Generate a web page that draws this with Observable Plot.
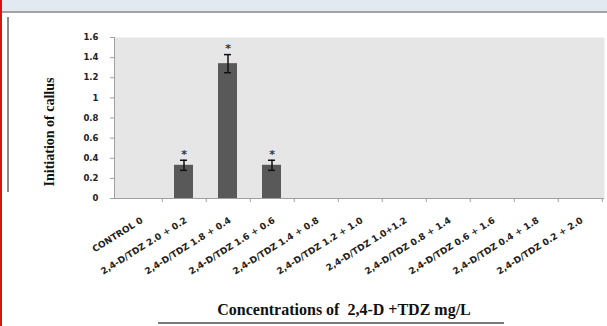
<!DOCTYPE html>
<html>
<head>
<meta charset="utf-8">
<script src="https://cdn.jsdelivr.net/npm/d3@7"></script>
<script src="https://cdn.jsdelivr.net/npm/@observablehq/plot@0.6"></script>
<style>
  html, body { margin: 0; padding: 0; background: #fff; }
  #wrap { position: relative; width: 607px; height: 326px; overflow: hidden; }
  #wrap svg { position: absolute; left: 0; top: 0; }
  .band { position: absolute; left: 0; top: 0; width: 607px; height: 11px; background: #e3e9f1; border-bottom: 2px solid #a3a3a3; }
  .red { position: absolute; left: 0; top: 0; width: 2px; height: 326px; background: #dd1111; }
  .lbar { position: absolute; left: 7px; top: 17px; width: 1.5px; height: 175px; background: #8a8a8a; }
  .bline { position: absolute; left: 158px; top: 322px; width: 346px; height: 2px; background: #7a7a7a; }
  .ytitle { position: absolute; left: 50px; top: 132px; transform: translate(-50%, -50%) rotate(-90deg); white-space: nowrap;
            font: bold 14px "Liberation Serif", "Times New Roman", serif; color: #111; }
  .xtitle { position: absolute; left: 344px; top: 310px; transform: translate(-50%, -50%); white-space: pre;
            font: bold 16px "Liberation Serif", "Times New Roman", serif; color: #111; }
</style>
</head>
<body>
<div id="wrap"></div>
<script>
const categories = [
  "CONTROL 0",
  "2,4-D/TDZ 2.0 + 0.2",
  "2,4-D/TDZ 1.8 + 0.4",
  "2,4-D/TDZ 1.6 + 0.6",
  "2,4-D/TDZ 1.4 + 0.8",
  "2,4-D/TDZ 1.2 + 1.0",
  "2,4-D/TDZ 1.0+1.2",
  "2,4-D/TDZ 0.8 + 1.4",
  "2,4-D/TDZ 0.6 + 1.6",
  "2,4-D/TDZ 0.4 + 1.8",
  "2,4-D/TDZ 0.2 + 2.0"
];
const values = [0, 0.33, 1.34, 0.33, 0, 0, 0, 0, 0, 0, 0];
const errors = [0, 0.05, 0.09, 0.05, 0, 0, 0, 0, 0, 0, 0];
const marks = ["", "*", "*", "*", "", "", "", "", "", "", ""];
const yTicks = [0, 0.2, 0.4, 0.6, 0.8, 1, 1.2, 1.4, 1.6];
const yTickLabels = ["0", "0.2", "0.4", "0.6", "0.8", "1", "1.2", "1.4", "1.6"];
const yTitle = "Initiation of callus";
const xTitle = "Concentrations of  2,4-D +TDZ mg/L";

const data = categories.map((c, i) => ({cat: c, value: values[i], err: errors[i], mark: marks[i]}));
const withErr = data.filter(d => d.err > 0);

const W = 607, H = 326, ML = 114, MR = 3, MT = 37, MB = 128;
const step = (W - ML - MR) / categories.length;
const tickFont = {fontFamily: "DejaVu Sans", fontWeight: "bold", fill: "#222"};

const chart = Plot.plot({
  width: W, height: H,
  marginTop: MT, marginLeft: ML, marginRight: MR, marginBottom: MB,
  style: {background: "transparent", overflow: "visible"},
  x: {domain: categories, paddingInner: 0.57, paddingOuter: 0.285, label: null},
  y: {domain: [0, 1.6], label: null},
  marks: [
    Plot.frame({fill: "#e6e6e6", stroke: null}),
    Plot.barY(data, {x: "cat", y: "value", fill: "#595959"}),
    Plot.ruleX(withErr, {x: "cat", y1: d => d.value - d.err, y2: d => d.value + d.err, stroke: "#111", strokeWidth: 1.5}),
    Plot.tickY(withErr, {x: "cat", y: d => d.value + d.err, insetLeft: 6, insetRight: 6, stroke: "#111", strokeWidth: 1.5}),
    Plot.tickY(withErr, {x: "cat", y: d => d.value - d.err, insetLeft: 6, insetRight: 6, stroke: "#111", strokeWidth: 1.5}),
    Plot.text(withErr, {x: "cat", y: d => d.value + d.err, text: "mark", dy: -6, fontSize: 11, fontWeight: "bold", fill: "#333", fontFamily: "DejaVu Sans"}),
    Plot.frame({anchor: "left", stroke: "#a0a0a0"}),
    Plot.ruleY([0], {stroke: "#a0a0a0"}),
    Plot.axisY({ticks: yTicks, tickFormat: (d, i) => yTickLabels[i], tickSize: 4, tickPadding: 12, stroke: "#a0a0a0", fontSize: 8.5, ...tickFont}),
    Plot.axisX({tickSize: 4, tickFormat: () => "", dx: step / 2, stroke: "#a0a0a0"}),
    Plot.axisX({tickSize: 0, tickRotate: -32, tickPadding: 21, dx: 2, fontSize: 9, ...tickFont})
  ]
});

const wrap = document.getElementById("wrap");
wrap.appendChild(chart);
const add = (cls, text) => { const d = document.createElement("div"); d.className = cls; if (text) d.textContent = text; wrap.appendChild(d); };
add("band"); add("red"); add("lbar"); add("bline");
add("ytitle", yTitle); add("xtitle", xTitle);
</script>
</body>
</html>
